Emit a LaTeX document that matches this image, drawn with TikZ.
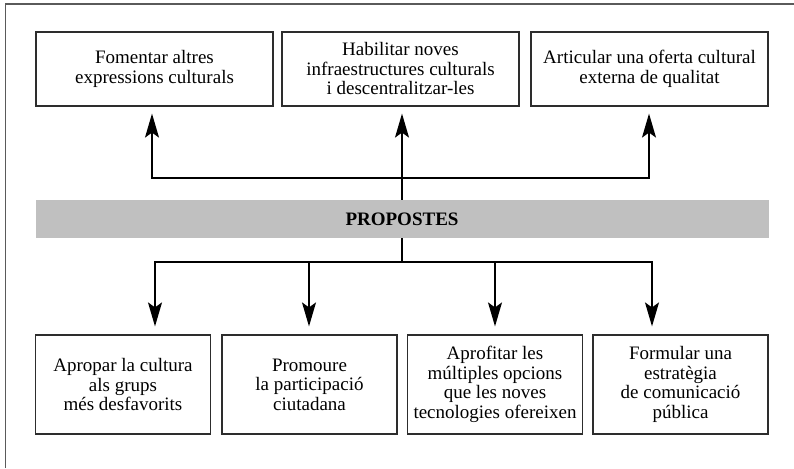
\documentclass[tikz,border=0pt]{standalone}
\usepackage{fontspec}
\setmainfont{Liberation Serif}
\usepackage{xcolor}
\usetikzlibrary{arrows.meta, positioning}
\definecolor{framegray}{RGB}{90, 90, 90}
\definecolor{boxline}{RGB}{45, 45, 45}
\definecolor{bandgray}{RGB}{192, 192, 192}

\begin{document}
\begin{tikzpicture}[
    x=1pt, y=-1pt,
    box/.style={
        rectangle,
        draw=boxline,
        line width=1.2pt,
        fill=white,
        inner sep=2pt,
        align=center,
        font=\fontsize{19}{19.5}\selectfont
    },
    topbox/.style={
        box,
        minimum width=237pt,
        minimum height=74pt
    },
    bottombox/.style={
        box,
        minimum width=175pt,
        minimum height=99pt
    },
    band/.style={
        rectangle,
        fill=bandgray,
        minimum width=733pt,
        minimum height=38pt,
        font=\fontsize{19}{19}\selectfont\bfseries
    },
    link/.style={
        line width=1.4pt,
        draw=black
    },
    arrow/.style={
        link,
        -{Stealth[length=24pt, width=14pt, inset=5pt]}
    }
]

    \useasboundingbox (0,0) rectangle (794,468);

    % Outer frame (top and left edges only)
    \draw[framegray, line width=1.5pt] (5.5,468) -- (5.5,4) -- (794,4);

    % Top Layer: goals
    \node[topbox] (fomentar) at (154.5,69) {
        Fomentar altres \\ expressions culturals
    };
    \node[topbox] (habilitar) at (400.5,69) {
        Habilitar noves \\ infraestructures culturals \\ i descentralitzar-les
    };
    \node[topbox] (articular) at (649.5,69) {
        Articular una oferta cultural \\ externa de qualitat
    };

    % Middle Layer: band
    \node[band] (propostes) at (402,219) {PROPOSTES};

    % Bottom Layer: actions
    \node[bottombox] (apropar) at (123,384.5) {
        Apropar la cultura \\ als grups \\ més desfavorits
    };
    \node[bottombox] (promoure) at (309.5,384.5) {
        Promoure \\ la participació \\ ciutadana
    };
    \node[bottombox] (aprofitar) at (495,384.5) {
        Aprofitar les \\ múltiples opcions \\ que les noves \\ tecnologies ofereixen
    };
    \node[bottombox] (formular) at (680.5,384.5) {
        Formular una \\ estratègia \\ de comunicació \\ pública
    };

    % Junctions
    \coordinate (upjoin) at (402,178);
    \coordinate (downjoin) at (402,262);

    % Arrows
    \draw[arrow, shorten >=7pt] (propostes.north) -- (propostes.north |- habilitar.south);
    \draw[arrow, shorten >=7pt] (upjoin) -| ([xshift=-2.5pt]fomentar.south);
    \draw[arrow, shorten >=7pt] (upjoin) -| ([xshift=-0.5pt]articular.south);
    \draw[link] (propostes.south) -- (downjoin);
    \draw[arrow, shorten >=8pt] (downjoin) -| ([xshift=32pt]apropar.north);
    \draw[arrow, shorten >=8pt] (downjoin) -| ([xshift=-0.5pt]promoure.north);
    \draw[arrow, shorten >=8pt] (downjoin) -| (aprofitar.north);
    \draw[arrow, shorten >=8pt] (downjoin) -| ([xshift=-28.5pt]formular.north);

\end{tikzpicture}
\end{document}
